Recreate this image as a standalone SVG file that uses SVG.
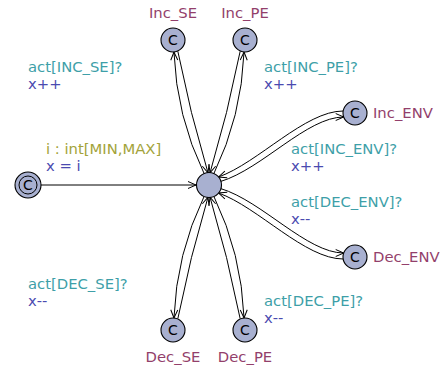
<svg xmlns="http://www.w3.org/2000/svg" width="442" height="369" viewBox="0 0 442 369">
<style>
text{font-family:"DejaVu Sans","Liberation Sans",sans-serif;font-size:14.8px}
.loc{fill:#a8b0d0;stroke:#000;stroke-width:1.1}
.ring{fill:none;stroke:#000;stroke-width:1}
.c{fill:#000;text-anchor:middle;font-size:14px}
.name{fill:#933f6b}
.mid{text-anchor:middle}
.sync{fill:#3e9fa8}
.upd{fill:#4a4ab0}
.sel{fill:#a3a33a}
.e{fill:none;stroke:#000;stroke-width:1;marker-end:url(#ah)}
</style>
<defs>
<marker id="ah" markerUnits="userSpaceOnUse" markerWidth="12" markerHeight="10" refX="9" refY="4" orient="auto" viewBox="0 0 12 10" overflow="visible"><path d="M1,0.5 L9,4 L1,7.5" fill="none" stroke="#000" stroke-width="1"/></marker>
</defs>
<g id="edges">
<path class="e" d="M41,185 L196,185"/>
<path class="e" d="M204.2,173.8 Q176.4,116.1 173.95,52.1"/>
<path class="e" d="M177.8,51.2 Q190,112.7 208,172.9"/>
<path class="e" d="M213.8,173.8 Q241.6,116.1 244.05,52.1"/>
<path class="e" d="M240.2,51.2 Q228,112.7 210,172.9"/>
<path class="e" d="M204.2,196.2 Q176.4,253.9 173.95,317.9"/>
<path class="e" d="M177.8,318.8 Q190,257.3 208,197.1"/>
<path class="e" d="M213.8,196.2 Q241.6,253.9 244.05,317.9"/>
<path class="e" d="M240.2,318.8 Q228,257.3 210,197.1"/>
<path class="e" d="M220.5,181.5 C262,169 307,117 343.7,117"/>
<path class="e" d="M343.2,111 C305,111 258,163 218.5,177"/>
<path class="e" d="M220.5,188.5 C262,201 307,253 343.7,253"/>
<path class="e" d="M343.2,259 C305,259 258,207 218.5,193"/>
</g>
<g id="labels">
<text class="sel" x="46" y="153.5">i : int[MIN,MAX]</text>
<text class="upd" x="46" y="170.5">x = i</text>
<text class="sync" x="28" y="72">act[INC_SE]?</text>
<text class="upd" x="28" y="89">x++</text>
<text class="sync" x="264" y="72">act[INC_PE]?</text>
<text class="upd" x="264" y="89">x++</text>
<text class="sync" x="291" y="154">act[INC_ENV]?</text>
<text class="upd" x="291" y="171">x++</text>
<text class="sync" x="291" y="206.5">act[DEC_ENV]?</text>
<text class="upd" x="291" y="223.5">x--</text>
<text class="sync" x="28" y="289">act[DEC_SE]?</text>
<text class="upd" x="28" y="306">x--</text>
<text class="sync" x="264" y="306">act[DEC_PE]?</text>
<text class="upd" x="264" y="323">x--</text>
</g>
<g id="init">
<circle class="loc" cx="28" cy="185" r="13"/>
<circle class="ring" cx="28" cy="185" r="9"/>
<text class="c" x="28" y="190">C</text>
</g>
<g id="center">
<circle class="loc" cx="209" cy="185" r="12.5"/>
</g>
<g id="Inc_SE">
<circle class="loc" cx="173" cy="40" r="12"/>
<text class="c" x="173" y="45">C</text>
<text class="name mid" x="173" y="18">Inc_SE</text>
</g>
<g id="Inc_PE">
<circle class="loc" cx="245" cy="40" r="12"/>
<text class="c" x="245" y="45">C</text>
<text class="name mid" x="245" y="18">Inc_PE</text>
</g>
<g id="Inc_ENV">
<circle class="loc" cx="355" cy="113" r="12"/>
<text class="c" x="355" y="118">C</text>
<text class="name" x="373" y="118">Inc_ENV</text>
</g>
<g id="Dec_ENV">
<circle class="loc" cx="355" cy="257" r="12"/>
<text class="c" x="355" y="262">C</text>
<text class="name" x="373" y="262">Dec_ENV</text>
</g>
<g id="Dec_SE">
<circle class="loc" cx="173" cy="330" r="12"/>
<text class="c" x="173" y="335">C</text>
<text class="name mid" x="173" y="362">Dec_SE</text>
</g>
<g id="Dec_PE">
<circle class="loc" cx="245" cy="330" r="12"/>
<text class="c" x="245" y="335">C</text>
<text class="name mid" x="245" y="362">Dec_PE</text>
</g>
</svg>
